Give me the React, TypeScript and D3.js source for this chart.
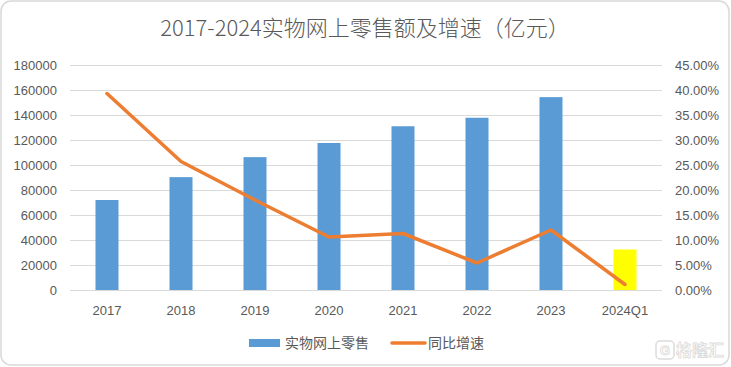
import React from "react";
import * as d3 from "d3";

const categories = ["2017", "2018", "2019", "2020", "2021", "2022", "2023", "2024Q1"];
const salesValues = [72000, 90300, 106300, 117600, 131000, 137800, 154300, 32400];
const growthValues = [0.393, 0.257, 0.18, 0.106, 0.113, 0.054, 0.12, 0.011];
const leftTicks = [0, 20000, 40000, 60000, 80000, 100000, 120000, 140000, 160000, 180000];
const rightTicks = [0, 0.05, 0.1, 0.15, 0.2, 0.25, 0.3, 0.35, 0.4, 0.45];
const title = "2017-2024实物网上零售额及增速（亿元）";
const legendBar = "实物网上零售";
const legendLine = "同比增速";

const W = 731;
const H = 367;
const left = 70;
const right = 662;
const top = 65;
const bottom = 290;

const labelColor = "#595959";
const numFont = "'Liberation Sans', Arial, sans-serif";
const cjkFont = "'Noto Sans CJK SC', sans-serif";

export default function App() {
  const x = d3.scaleBand<string>().domain(categories).range([left, right]).paddingInner(0).paddingOuter(0);
  const yL = d3.scaleLinear().domain([0, 180000]).range([bottom, top]);
  const yR = d3.scaleLinear().domain([0, 0.45]).range([bottom, top]);
  const barW = 23;
  const cx = (c: string) => (x(c) as number) + x.bandwidth() / 2;
  const line = d3
    .line<number>()
    .x((_, i) => cx(categories[i]))
    .y((d) => yR(d));

  return (
    <svg width={W} height={H} style={{ position: "absolute", left: 0, top: 0 }}>
      <rect x={1} y={1} width={W - 3} height={H - 3} rx={10} ry={10} fill="#fff" stroke="#d9d9d9" strokeWidth={1.5} />
      <text x={365} y={36} textAnchor="middle" fontFamily={cjkFont} fontSize={22} fontWeight={300} fill={labelColor}>
        {title}
      </text>
      {leftTicks.map((t) => (
        <line key={"g" + t} x1={left} x2={right} y1={Math.round(yL(t)) + 0.5} y2={Math.round(yL(t)) + 0.5} stroke="#d9d9d9" strokeWidth={1} />
      ))}
      {leftTicks.map((t) => (
        <text key={"l" + t} x={57} y={yL(t) + 4.5} textAnchor="end" fontFamily={numFont} fontSize={13} fill={labelColor}>
          {t}
        </text>
      ))}
      {rightTicks.map((t) => (
        <text key={"r" + t} x={675} y={yR(t) + 4.5} textAnchor="start" fontFamily={numFont} fontSize={13} fill={labelColor}>
          {(t * 100).toFixed(2) + "%"}
        </text>
      ))}
      {categories.map((c) => (
        <text key={"x" + c} x={cx(c)} y={315} textAnchor="middle" fontFamily={numFont} fontSize={13} fill={labelColor}>
          {c}
        </text>
      ))}
      {categories.map((c, i) => (
        <rect
          key={"b" + c}
          x={cx(c) - barW / 2}
          y={yL(salesValues[i])}
          width={barW}
          height={yL(0) - yL(salesValues[i])}
          fill={i === categories.length - 1 ? "#FFFF00" : "#5B9BD5"}
        />
      ))}
      <path d={line(growthValues) || ""} fill="none" stroke="#ED7D31" strokeWidth={3.5} strokeLinejoin="round" strokeLinecap="round" />
      <rect x={249} y={339} width={31} height={8} fill="#5B9BD5" />
      <text x={285} y={348} fontFamily={cjkFont} fontSize={14} fill={labelColor}>
        {legendBar}
      </text>
      <line x1={392} x2={425} y1={343} y2={343} stroke="#ED7D31" strokeWidth={3.5} strokeLinecap="round" />
      <text x={428} y={348} fontFamily={cjkFont} fontSize={14} fill={labelColor}>
        {legendLine}
      </text>
      <g opacity={0.55}>
        <rect x={656} y={341} width={18} height={18} rx={4} fill="none" stroke="#bfbfbf" strokeWidth={1.5} />
        <text x={665} y={355} textAnchor="middle" fontFamily={numFont} fontSize={13} fontWeight={700} fill="none" stroke="#bfbfbf" strokeWidth={0.8}>
          G
        </text>
        <text x={676} y={356} fontFamily={cjkFont} fontSize={16} fontWeight={700} fill="#fff" stroke="#bfbfbf" strokeWidth={0.8}>
          格隆汇
        </text>
      </g>
    </svg>
  );
}
